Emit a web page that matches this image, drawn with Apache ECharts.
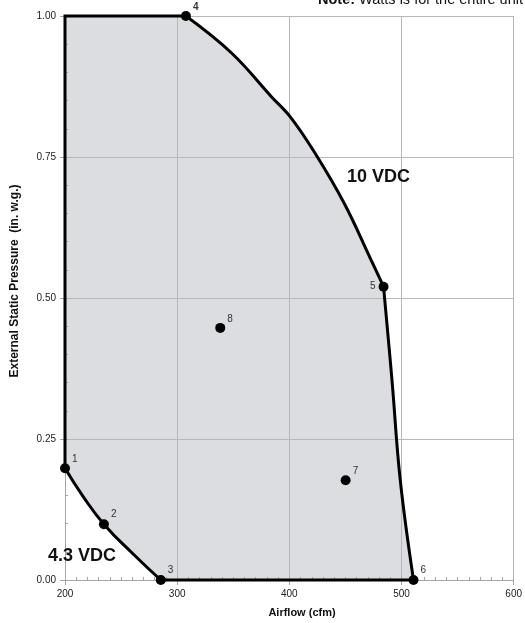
<!DOCTYPE html>
<html><head><meta charset="utf-8">
<script src="https://cdn.jsdelivr.net/npm/echarts@6/dist/echarts.min.js"></script>
<style>html,body{margin:0;padding:0;background:#fff}#c{width:525px;height:623px}</style>
</head><body><div id="c"></div>
<script>
// Operating points
const pointLabels = ['1','2','3','4','5','6','7','8'];
const pointCfm = [200, 234.7, 285.4, 307.8, 484.0, 510.7, 450.2, 338.4];
const pointEsp = [0.198, 0.099, 0, 1.0, 0.520, 0, 0.177, 0.447];

// Boundary segments
const edgeCfm = [200, 200, 307.8];
const edgeEsp = [0.198, 1.0, 1.0];
const curve10Cfm = [307.8, 348.7, 384.0, 401.7, 423.8, 448.9, 472.3, 484.0];
const curve10Esp = [1.0, 0.934, 0.857, 0.819, 0.754, 0.668, 0.570, 0.520];
const curve56Cfm = [484.0, 491.5, 498.9, 510.7];
const curve56Esp = [0.520, 0.355, 0.177, 0];
const bottomCfm = [510.7, 285.4];
const bottomEsp = [0, 0];
const curve43Cfm = [285.4, 260.3, 234.7, 216.2, 200];
const curve43Esp = [0, 0.047, 0.099, 0.148, 0.198];

const xTicks = [200, 300, 400, 500, 600];
const yTicks = [0, 0.25, 0.5, 0.75, 1.0];

const zip = (a, b) => a.map((v, i) => [v, b[i]]);
const segments = [
  {pts: zip(edgeCfm, edgeEsp), smooth: 0},
  {pts: zip(curve10Cfm, curve10Esp), smooth: 0.4},
  {pts: zip(curve56Cfm, curve56Esp), smooth: 0.4},
  {pts: zip(bottomCfm, bottomEsp), smooth: 0},
  {pts: zip(curve43Cfm, curve43Esp), smooth: 0.5}
];
const polygon = [].concat(...segments.map((s, i) => i === 0 ? s.pts : s.pts.slice(1)));

const labelPos = {
  '1': {position: 'right', offset: [-3, -9]},
  '2': {position: 'right', offset: [-3, -10]},
  '3': {position: 'right', offset: [-3, -10]},
  '4': {position: 'right', offset: [-3, -9], fontWeight: 'bold'},
  '5': {position: 'left', offset: [2, 0]},
  '6': {position: 'right', offset: [-3, -10]},
  '7': {position: 'right', offset: [-3, -9]},
  '8': {position: 'right', offset: [-3, -9]}
};

const pts = pointLabels.map((l, i) => ({
  value: [pointCfm[i], pointEsp[i]],
  name: l,
  label: Object.assign({show: true, formatter: l, color: '#333', fontSize: 10, fontFamily: 'Liberation Sans, Arial, sans-serif'}, labelPos[l])
}));

const chart = echarts.init(document.getElementById('c'));
chart.setOption({
  animation: false,
  grid: {left: 65, right: 8, top: 16, bottom: 43},
  xAxis: [{
    type: 'value', min: 200, max: 600, interval: 100, z: 2,
    axisLine: {show: true, lineStyle: {color: '#a6a6a6'}},
    axisTick: {show: true, length: 5, lineStyle: {color: '#a6a6a6'}},
    axisLabel: {fontSize: 10, color: '#222', margin: 9, fontFamily: 'Liberation Sans, Arial, sans-serif'},
    splitLine: {show: true, lineStyle: {color: '#b8b8b8', width: 1}}
  }, {
    type: 'value', min: 200, max: 600, interval: 10, position: 'bottom', z: 2,
    axisLine: {show: false}, axisLabel: {show: false}, splitLine: {show: false},
    axisTick: {show: true, inside: true, length: 3, lineStyle: {color: '#a6a6a6'}}
  }],
  yAxis: [{
    type: 'value', min: 0, max: 1, interval: 0.25, z: 2,
    axisLine: {show: true, lineStyle: {color: '#a6a6a6'}},
    axisTick: {show: true, length: 5, lineStyle: {color: '#a6a6a6'}},
    axisLabel: {fontSize: 10, color: '#222', margin: 9, fontFamily: 'Liberation Sans, Arial, sans-serif', formatter: v => v.toFixed(2)},
    splitLine: {show: true, lineStyle: {color: '#b8b8b8', width: 1}}
  }, {
    type: 'value', min: 0, max: 1, interval: 0.05, position: 'left', z: 2,
    axisLine: {show: false}, axisLabel: {show: false}, splitLine: {show: false},
    axisTick: {show: true, inside: true, length: 3, lineStyle: {color: '#a6a6a6'}}
  }],
  series: [
    {
      type: 'custom', z: 1, silent: true,
      data: [0],
      renderItem: (params, api) => ({
        type: 'polygon',
        shape: {points: polygon.map(p => api.coord(p))},
        style: {fill: '#dcdde0', stroke: 'none'}
      })
    },
    {
      type: 'custom', z: 5, silent: true,
      data: [0],
      renderItem: (params, api) => ({
        type: 'group',
        children: segments.map(s => ({
          type: 'polyline',
          shape: {points: s.pts.map(p => api.coord(p)), smooth: s.smooth},
          style: {stroke: '#000', lineWidth: 3, fill: null, lineJoin: 'miter', lineCap: 'square'}
        }))
      })
    },
    {
      type: 'scatter', data: pts, symbolSize: 10, z: 6,
      itemStyle: {color: '#000', opacity: 1}, silent: true
    }
  ],
  graphic: [
    {type: 'text', left: 347, top: 168, z: 10, style: {text: '10 VDC', fontSize: 18, fontWeight: 'bold', fill: '#111', fontFamily: 'Liberation Sans, Arial, sans-serif'}},
    {type: 'text', left: 48, top: 547, z: 10, style: {text: '4.3 VDC', fontSize: 18, fontWeight: 'bold', fill: '#111', fontFamily: 'Liberation Sans, Arial, sans-serif'}},
    {type: 'text', x: 318, y: 0, z: 10, style: {text: '{b|Note:} Watts is for the entire unit', fontSize: 14.5, fill: '#111', verticalAlign: 'middle', fontFamily: 'Liberation Sans, Arial, sans-serif', rich: {b: {fontWeight: 'bold', fontSize: 14.5, fontFamily: 'Liberation Sans, Arial, sans-serif'}}}},
    {type: 'text', x: 302, y: 613, z: 10, style: {text: 'Airflow (cfm)', fontSize: 11, fontWeight: 'bold', fill: '#111', align: 'center', verticalAlign: 'middle', fontFamily: 'Liberation Sans, Arial, sans-serif'}},
    {type: 'text', x: 15, y: 281, rotation: Math.PI / 2, z: 10, style: {text: 'External Static Pressure  (in. w.g.)', fontSize: 12, fontWeight: 'bold', fill: '#111', align: 'center', verticalAlign: 'middle', fontFamily: 'Liberation Sans, Arial, sans-serif'}}
  ]
});
</script></body></html>
